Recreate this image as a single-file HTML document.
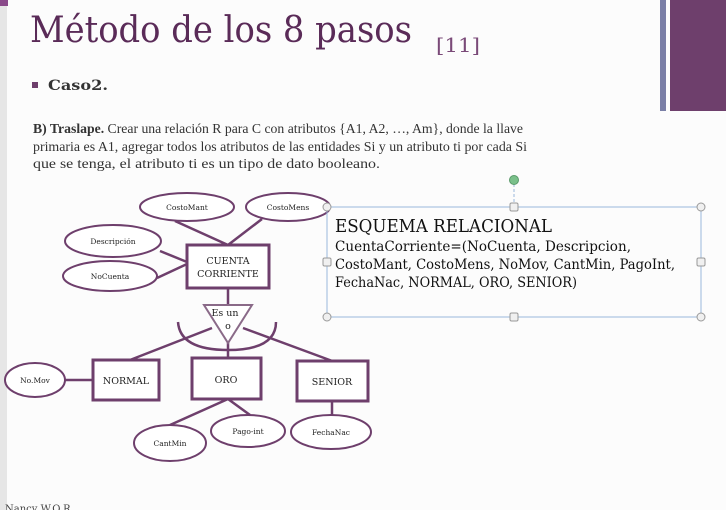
<!DOCTYPE html>
<html><head><meta charset="utf-8"><style>
html,body{margin:0;padding:0;background:#fcfcfc;}
svg{display:block;}
text{font-family:"DejaVu Serif","Liberation Serif",serif;}
.ls{font-family:"Liberation Serif",serif;}
</style></head><body>
<svg width="726" height="510" viewBox="0 0 726 510" xmlns="http://www.w3.org/2000/svg">
<rect width="726" height="510" fill="#fcfcfc"/>
<rect x="0" y="0" width="7" height="510" fill="#e6e6e6"/>
<rect x="0" y="0" width="8" height="6" fill="#8a4a8a"/>
<rect x="660" y="0" width="6" height="111" fill="#7a7fa6"/>
<rect x="670" y="0" width="56" height="111" fill="#6e3f6c"/>
<text x="30" y="42" font-size="36" fill="#5a2b58" textLength="382" lengthAdjust="spacingAndGlyphs">Método de los 8 pasos</text>
<text x="436" y="52" font-size="20" fill="#7a4a78" textLength="44" lengthAdjust="spacingAndGlyphs">[11]</text>
<rect x="32" y="82" width="6" height="6" fill="#6e3f6c"/>
<text x="48" y="90" font-size="14" font-weight="bold" fill="#333" textLength="60" lengthAdjust="spacingAndGlyphs">Caso2.</text>
<g font-size="13.6" fill="#333" class="ls">
<text class="ls" x="33" y="133" textLength="490" lengthAdjust="spacingAndGlyphs"><tspan font-weight="bold">B) Traslape.</tspan> Crear una relación R para C con atributos {A1, A2, …, Am}, donde la llave</text>
<text class="ls" x="33" y="151" textLength="494" lengthAdjust="spacingAndGlyphs">primaria es A1, agregar todos los atributos de las entidades Si y un atributo ti por cada Si</text>
<text class="ls" x="33" y="168" textLength="347" lengthAdjust="spacingAndGlyphs">que se tenga, el atributo ti es un tipo de dato booleano.</text>
</g>
<g stroke="#6e3f6c" stroke-width="2.5" fill="none">
<line x1="228" y1="245" x2="175" y2="221"/><line x1="228" y1="245" x2="262" y2="219"/>
<line x1="160" y1="251" x2="187" y2="262"/><line x1="157" y1="278" x2="187" y2="264"/>
<line x1="228" y1="288" x2="228" y2="305"/>
<path d="M178 322 Q180 350 228 350 Q276 350 276 322"/>
<line x1="212" y1="328" x2="130" y2="360"/><line x1="243" y1="328" x2="335" y2="362"/>
<line x1="228" y1="340" x2="228" y2="358"/>
<line x1="65" y1="380" x2="93" y2="380"/>
<line x1="228" y1="399" x2="170" y2="425"/><line x1="228" y1="399" x2="250" y2="415"/>
<line x1="332" y1="401" x2="332" y2="415"/>
</g>
<g stroke="#6e3f6c" stroke-width="2" fill="#fff">
<ellipse cx="187" cy="207" rx="47" ry="14"/><ellipse cx="288" cy="207" rx="42" ry="14"/>
<ellipse cx="113" cy="241" rx="48" ry="16"/><ellipse cx="110" cy="276" rx="47" ry="15"/>
<ellipse cx="35" cy="380" rx="30" ry="17"/><ellipse cx="170" cy="443" rx="36" ry="18"/>
<ellipse cx="248" cy="431" rx="37" ry="16"/><ellipse cx="331" cy="432" rx="40" ry="17"/>
</g>
<g stroke="#6e3f6c" stroke-width="3" fill="#fff">
<rect x="187" y="245" width="82" height="43"/>
<rect x="93" y="360" width="66" height="40"/><rect x="192" y="358" width="69" height="41"/><rect x="297" y="361" width="71" height="40"/>
</g>
<polygon points="204,305 252,305 228,343" fill="#fff" stroke="#8a6a88" stroke-width="2"/>
<g font-size="7.5" fill="#222" text-anchor="middle">
<text x="187" y="210">CostoMant</text><text x="288" y="210">CostoMens</text>
<text x="113" y="244">Descripción</text><text x="110" y="279">NoCuenta</text>
<text x="35" y="383">No.Mov</text><text x="170" y="446">CantMin</text>
<text x="248" y="434">Pago-int</text><text x="331" y="435">FechaNac</text>
</g>
<g font-size="9.5" fill="#222" text-anchor="middle">
<text x="228" y="264">CUENTA</text><text x="228" y="277">CORRIENTE</text>
<text x="126" y="384">NORMAL</text><text x="226" y="383">ORO</text><text x="332" y="385">SENIOR</text>
<text x="225" y="316">Es un</text><text x="228" y="329">o</text>
</g>
<rect x="327" y="207" width="374" height="110" fill="none" stroke="#9ab8dc" stroke-width="1"/>
<line x1="514" y1="184" x2="514" y2="207" stroke="#9ab8dc" stroke-dasharray="3,2"/>
<circle cx="514" cy="180" r="4.5" fill="#7ac08a" stroke="#5a9a6a"/>
<g fill="#f0f0f0" stroke="#999">
<circle cx="327" cy="207" r="4"/><circle cx="701" cy="207" r="4"/><circle cx="327" cy="317" r="4"/><circle cx="701" cy="317" r="4"/>
<rect x="510" y="203" width="8" height="8" rx="1.5"/><rect x="510" y="313" width="8" height="8" rx="1.5"/>
<rect x="323" y="258" width="8" height="8" rx="1.5"/><rect x="697" y="258" width="8" height="8" rx="1.5"/>
</g>
<text x="335" y="232" font-size="18" fill="#111" textLength="217" lengthAdjust="spacingAndGlyphs">ESQUEMA RELACIONAL</text>
<g font-size="14" fill="#111">
<text x="335" y="251" textLength="296" lengthAdjust="spacingAndGlyphs">CuentaCorriente=(NoCuenta, Descripcion,</text>
<text x="335" y="269" textLength="340" lengthAdjust="spacingAndGlyphs">CostoMant, CostoMens, NoMov, CantMin, PagoInt,</text>
<text x="335" y="287" textLength="242" lengthAdjust="spacingAndGlyphs">FechaNac, NORMAL, ORO, SENIOR)</text>
</g>
<text x="5" y="512" font-size="10" fill="#444">Nancy W.O.R.</text>
</svg>
</body></html>
